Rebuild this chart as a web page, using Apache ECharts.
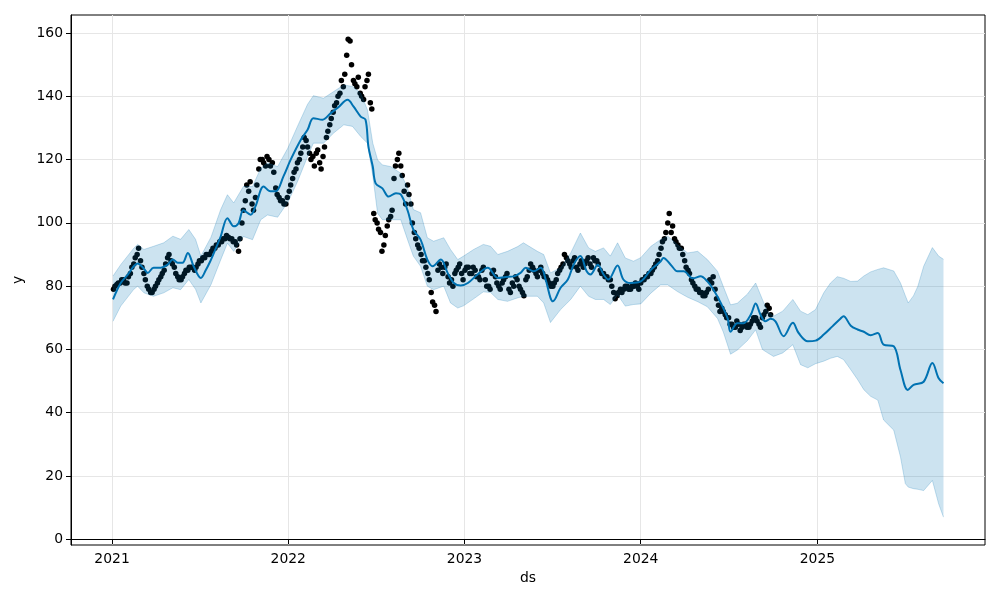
<!DOCTYPE html>
<html><head><meta charset="utf-8">
<script src="https://cdn.jsdelivr.net/npm/echarts@6/dist/echarts.min.js"></script>
<style>html,body{margin:0;padding:0;background:#fff}#c{width:1000px;height:600px}</style>
</head><body><div id="c"></div>
<script>
// observed values: one on each Monday (histY) and each Thursday (histY2), weeks starting histStart
const histStart = '2021-01-04';
const histY = [
  79, 80.5, 81, 82, 81, 84, 87, 90, 88, 84,
  80, 78, 79, 81, 83, 85, 89, 88, 86, 83,
  82, 84, 85, 86, 85, 87, 88, 89, 90, 91,
  92, 93, 94, 95, 95.5, 95, 94, 91, 100, 107,
  110, 106, 108, 117, 120, 118, 120, 119, 111, 108,
  107, 106, 110, 114, 117, 120, 124, 126, 122, 121,
  122, 119, 121, 127, 131, 135, 138, 141, 143, 153,
  157.5, 145, 143, 141, 139, 145, 138, 103, 100, 97,
  93, 99, 102, 114, 120, 118, 110, 112, 106, 97,
  93, 90, 88, 84, 78, 74, 85, 86, 86, 83,
  82, 84, 86, 84, 85, 86, 84, 85, 83, 85,
  82, 80, 84, 83, 80, 81, 83, 79, 81, 83,
  80, 78, 82, 85, 86, 84, 85, 84, 83, 81,
  80, 82, 85, 87, 89, 87, 88, 86, 87, 86,
  88, 87, 89, 88, 85, 84, 83, 82, 78, 77,
  79, 79, 80, 79, 80, 80, 81, 82, 83, 84,
  86, 88, 92, 95, 100, 97, 95, 93, 92, 88,
  85, 82, 80, 79, 78, 77, 79, 81, 79, 74,
  73, 71, 70, 68, 67, 68, 67, 68, 67, 69,
  70, 68, 70, 72, 73
];
const histY2 = [
  80, 81, 82, 81, 83, 86, 89, 92, 86, 82,
  79, 78, 80, 82, 84, 87, 90, 87, 84, 82,
  83, 85, 86, 86, 86, 88, 89, 90, 90, 92,
  93, 94, 95, 96, 95, 94, 93, 95, 104, 112,
  113, 104, 112, 120, 119, 121, 118, 116, 109, 107,
  106, 108, 112, 116, 119, 122, 127, 124, 120, 118,
  123, 117, 124, 129, 133, 137, 140, 145, 147, 158,
  150, 144, 146, 140, 143, 147, 136, 101, 98, 91,
  96, 101, 104, 118, 122, 115, 106, 109, 100, 95,
  92, 88, 86, 82, 75, 72, 87, 84, 87, 81,
  80, 85, 87, 82, 86, 84, 86, 83, 82, 86,
  80, 79, 85, 81, 79, 82, 84, 78, 80, 82,
  79, 77, 83, 87, 85, 83, 86, 83, 82, 80,
  81, 84, 86, 90, 88, 86, 89, 85, 88, 87,
  89, 86, 88, 87, 84, 83, 82, 80, 76, 78,
  78, 80, 79, 80, 81, 79, 82, 83, 84, 85,
  87, 90, 94, 97, 103, 99, 94, 92, 90, 86,
  84, 81, 79, 78, 77, 78, 82, 83, 76, 72,
  72, 70, 68, 67, 69, 66, 68, 67, 68, 70,
  69, 67, 71, 74, 71
];

// forecast (yhat)
const fcDates = [
  '2021-01-03','2021-01-19','2021-02-03','2021-02-15','2021-02-23','2021-03-08','2021-03-16','2021-03-28',
  '2021-04-12','2021-04-26','2021-05-07','2021-05-17','2021-05-27','2021-06-07','2021-06-19','2021-07-04',
  '2021-07-14','2021-07-25','2021-07-31','2021-08-14','2021-08-28','2021-09-10','2021-09-20','2021-09-30',
  '2021-10-15','2021-10-25','2021-11-11','2021-11-25','2021-12-06','2021-12-22','2022-01-06','2022-01-27',
  '2022-02-10','2022-02-22','2022-03-13','2022-03-30','2022-04-13','2022-05-04','2022-05-16','2022-05-31',
  '2022-06-10','2022-06-16','2022-06-25','2022-07-01','2022-07-15','2022-07-28','2022-08-12','2022-08-22',
  '2022-09-05','2022-09-17','2022-10-02','2022-10-16','2022-10-27','2022-11-13','2022-11-27','2022-12-10',
  '2022-12-24','2023-01-08','2023-01-28','2023-02-18','2023-03-11','2023-03-27','2023-04-13','2023-04-27',
  '2023-05-08','2023-05-24','2023-06-08','2023-06-18','2023-06-28','2023-07-03','2023-07-19','2023-08-03',
  '2023-08-15','2023-08-29','2023-09-11','2023-09-19','2023-10-04','2023-10-16','2023-10-26','2023-11-14',
  '2023-11-26','2023-12-11','2024-01-01','2024-01-22','2024-02-11','2024-02-17','2024-03-03','2024-03-17',
  '2024-03-30','2024-04-18','2024-05-04','2024-05-18','2024-05-31','2024-06-15','2024-06-29','2024-07-05',
  '2024-07-19','2024-08-01','2024-08-16','2024-08-26','2024-09-05','2024-09-15','2024-09-26','2024-10-06',
  '2024-10-23','2024-11-11','2024-11-23','2024-12-12','2024-12-28','2025-01-14','2025-02-01','2025-02-18',
  '2025-02-24','2025-03-11','2025-03-25','2025-04-07','2025-04-21','2025-05-06','2025-05-18','2025-06-08',
  '2025-06-22','2025-07-07','2025-07-19','2025-08-09','2025-08-27','2025-09-09','2025-09-19'
];
const yhat = [
  75.8, 81, 83.7, 86.3, 87.2, 85.5, 84.2, 85.8,
  85.8, 86.8, 88.4, 87.4, 87.4, 90.5, 86.3, 82.6,
  85, 88.4, 90.5, 95.7, 101.5, 98.9, 99.9, 104,
  102.6, 105.2, 111.5, 110, 110, 114.7, 120, 126.3,
  129.4, 133.1, 132.6, 134.7, 136.3, 138.9, 136.8, 133.6,
  132.6, 124.1, 117.8, 112.5, 110.9, 108.3, 109.4, 109,
  104, 97.9, 94.7, 88.4, 86.3, 88.4, 84.2, 81,
  80.2, 81, 83.7, 85.8, 82.6, 82.9, 83.1, 84.2,
  85.8, 84.7, 85.8, 82.1, 76.3, 75.2, 79.5, 82.1,
  86.8, 89.5, 84.7, 83.7, 86.8, 83.7, 82.1, 86.5,
  82.1, 81, 81.5, 85.2, 87.8, 88.9, 86.8, 84.7,
  84.7, 82.5, 83.1, 81.5, 78.8, 74.6, 69.8, 65.6,
  68.3, 68.3, 71, 74.5, 71, 68.9, 69.7, 68.9,
  64.2, 68.4, 65.2, 62.6, 62.8, 64.7, 67.3, 69.8,
  70.5, 67.5, 66.3, 65.6, 64.5, 65.2, 61.5, 61,
  53.5, 47.2, 48.8, 49.8, 55.7, 50.9, 49.3
];

// uncertainty interval
const bandDates = [
  '2021-01-03','2021-01-19','2021-02-15','2021-02-23','2021-03-08','2021-03-28','2021-04-18','2021-05-07',
  '2021-05-23','2021-06-09','2021-06-23','2021-07-04','2021-07-25','2021-08-14','2021-08-28','2021-09-10',
  '2021-09-30','2021-10-19','2021-11-05','2021-11-19','2021-12-10','2021-12-31','2022-01-20','2022-02-10',
  '2022-02-22','2022-03-15','2022-04-05','2022-04-26','2022-05-14','2022-05-31','2022-06-14','2022-06-25',
  '2022-07-05','2022-07-15','2022-08-01','2022-08-22','2022-09-05','2022-09-17','2022-10-02','2022-10-16',
  '2022-10-29','2022-11-19','2022-12-03','2022-12-18','2022-12-30','2023-01-20','2023-02-09','2023-02-24',
  '2023-03-11','2023-03-31','2023-04-21','2023-05-03','2023-06-01','2023-06-14','2023-06-28','2023-07-19',
  '2023-08-09','2023-08-29','2023-09-15','2023-09-29','2023-10-16','2023-10-30','2023-11-14','2023-11-30',
  '2023-12-17','2024-01-01','2024-01-22','2024-02-11','2024-02-26','2024-03-17','2024-04-07','2024-04-28',
  '2024-05-18','2024-06-08','2024-06-20','2024-07-05','2024-07-19','2024-08-09','2024-08-26','2024-09-09',
  '2024-09-19','2024-10-02','2024-10-21','2024-11-11','2024-11-27','2024-12-12','2024-12-28','2025-01-14',
  '2025-01-28','2025-02-11','2025-02-24','2025-03-11','2025-03-25','2025-04-07','2025-04-21','2025-05-06',
  '2025-05-18','2025-06-08','2025-06-22','2025-07-02','2025-07-08','2025-07-19','2025-07-28','2025-08-09',
  '2025-08-27','2025-09-09','2025-09-19'
];
const upper = [
  83.2, 86.8, 92, 93.2, 91.6, 92.6, 93.7, 95.8,
  94.8, 97.9, 94.8, 89.5, 95.5, 104.2, 108.9, 106.3,
  111.5, 111.5, 117.3, 118.9, 117.8, 123.6, 130.5, 137.5,
  140.2, 139.4, 141.5, 143.6, 143.1, 141, 135.7, 125.2,
  119.9, 118.3, 117.8, 115.7, 111, 104.2, 103.2, 95.3,
  94.2, 95.3, 91.6, 88.4, 89.5, 91.6, 93.2, 92.6,
  90, 91, 92.5, 93.7, 91, 90, 84.2, 85.8,
  90.5, 96.8, 92.1, 91, 92.1, 89.5, 93.7, 88.9,
  87.9, 89, 92.6, 94.7, 95.8, 93.1, 90.5, 91,
  88.4, 84.7, 79.9, 74.1, 74.6, 77.5, 81, 75.8,
  72.1, 70.5, 72.1, 75.8, 72.1, 71, 72.6, 77.9,
  81, 83, 82.5, 81.5, 81.6, 83.2, 84.5, 85.3,
  85.8, 84.8, 81, 77, 74.7, 77, 80, 86.3,
  92.2, 89.5, 88.5
];
const lower = [
  68.9, 73.7, 79, 80, 77.9, 76.8, 77.9, 79.5,
  78.9, 82.1, 79, 74.7, 80.5, 88.3, 93.6, 91,
  95.7, 94.7, 101, 102.5, 101.8, 106.5, 113, 121,
  125.2, 125.2, 128.4, 131, 130.5, 127.3, 125.2, 115,
  103, 101, 101, 101, 94.7, 89.5, 86.3, 80,
  78.9, 80, 74.7, 73.1, 73.8, 76, 78.2, 78,
  75.8, 75.2, 76.3, 76.8, 76.8, 74.7, 68.5, 72.6,
  75.8, 80, 76.8, 75.8, 75.8, 74.2, 77.3, 73.7,
  74.2, 74.4, 77.8, 80.4, 80.4, 78.3, 76.5, 75.1,
  73.5, 69.8, 65.5, 58.5, 59.8, 62.8, 66.2, 60,
  59, 57.8, 58.9, 61.5, 55.2, 54.2, 55.5, 56.3,
  57.2, 57.8, 56.8, 53.6, 50.5, 47.3, 45.2, 44,
  37.7, 34.5, 26, 17.6, 16.5, 16, 15.8, 15.4,
  18.6, 11.2, 7
];

const xTicks = ['2021-01-01','2022-01-01','2023-01-01','2024-01-01','2025-01-01'];
const yTicks = [0, 20, 40, 60, 80, 100, 120, 140, 160];

const DAY = 86400000;
const t = s => { const p = s.split('-').map(Number); return Date.UTC(p[0], p[1] - 1, p[2]); };
const histData = histY.map((v, i) => [t(histStart) + i * 7 * DAY, v])
  .concat(histY2.map((v, i) => [t(histStart) + (i * 7 + 3) * DAY, v]));
const yhatData = fcDates.map((d, i) => [t(d), yhat[i]]);
const bandData = bandDates.map((d, i) => [t(d), lower[i], upper[i]]);
const xTickVals = xTicks.map(t);

function renderBand(params, api) {
  if (params.dataIndex !== 0) return null;
  const up = [], lo = [];
  for (let i = 0; i < bandData.length; i++) {
    up.push(api.coord([bandData[i][0], bandData[i][2]]));
    lo.push(api.coord([bandData[i][0], bandData[i][1]]));
  }
  const poly = up.concat(lo.slice().reverse());
  const edge = { stroke: 'rgba(0,114,178,0.22)', lineWidth: 1, fill: null };
  return {
    type: 'group',
    children: [
      { type: 'polygon', shape: { points: poly, smooth: 0 }, style: { fill: 'rgba(0,114,178,0.2)' } },
      { type: 'polyline', shape: { points: up }, style: edge },
      { type: 'polyline', shape: { points: lo }, style: edge }
    ]
  };
}

const font = { fontFamily: 'DejaVu Sans', fontSize: 13.9, color: '#000' };
const chart = echarts.init(document.getElementById('c'), null, { renderer: 'canvas' });
chart.setOption({
  animation: false,
  backgroundColor: '#fff',
  grid: { left: 71, right: 15, top: 15, bottom: 55, containLabel: false, outerBoundsMode: 'none',
          show: true, borderColor: '#000', borderWidth: 1, backgroundColor: 'transparent' },
  xAxis: {
    type: 'value', min: t('2020-10-08'), max: t('2025-12-14'),
    name: 'ds', nameLocation: 'middle', nameGap: 24,
    nameTextStyle: font,
    axisLine: { show: true, lineStyle: { color: '#000', width: 1 } },
    axisTick: { show: true, length: 5, lineStyle: { color: '#000' }, customValues: xTickVals },
    axisLabel: Object.assign({ margin: 7, customValues: xTickVals,
      formatter: v => String(new Date(v).getUTCFullYear()) }, font),
    splitLine: { show: true, lineStyle: { color: '#e6e6e6', width: 1 } }
  },
  yAxis: {
    type: 'value', min: -1.8, max: 165.7,
    name: 'y', nameLocation: 'middle', nameGap: 46, nameRotate: 90,
    nameTextStyle: font,
    axisLine: { show: true, lineStyle: { color: '#000', width: 1 } },
    axisTick: { show: true, length: 5, lineStyle: { color: '#000' }, customValues: yTicks },
    axisLabel: Object.assign({ margin: 8, customValues: yTicks }, font),
    splitLine: { show: true, lineStyle: { color: '#e6e6e6', width: 1 } }
  },
  series: [
    { type: 'scatter', data: histData, symbolSize: 5.5, itemStyle: { color: '#000', opacity: 1 }, silent: true, z: 2 },
    { type: 'line', data: yhatData, showSymbol: false, smooth: 0.35,
      lineStyle: { color: '#0072B2', width: 2 }, silent: true, z: 3 },
    { type: 'custom', data: bandData, renderItem: renderBand, silent: true, z: 4,
      encode: { x: 0, y: [1, 2] }, clip: true }
  ]
});
</script>
</body></html>
